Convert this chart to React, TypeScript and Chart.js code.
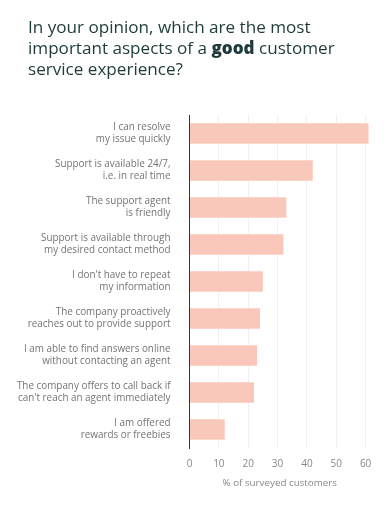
import React, { useEffect, useRef } from "react";
import { Chart, registerables } from "chart.js";

Chart.register(...registerables);

const categories: string[][] = [
  ["I can resolve", "my issue quickly"],
  ["Support is available 24/7,", "i.e. in real time"],
  ["The support agent", "is friendly"],
  ["Support is available through", "my desired contact method"],
  ["I don't have to repeat", "my information"],
  ["The company proactively", "reaches out to provide support"],
  ["I am able to find answers online", "without contacting an agent"],
  ["The company offers to call back if", "can't reach an agent immediately"],
  ["I am offered", "rewards or freebies"],
];
const values: number[] = [61, 42, 33, 32, 25, 24, 23, 22, 12];
const xTicks: number[] = [0, 10, 20, 30, 40, 50, 60];
const xTitle = "% of surveyed customers";

export default function App() {
  const ref = useRef<HTMLCanvasElement | null>(null);
  useEffect(() => {
    document.body.style.margin = "0";
    const ctx = ref.current!;
    const chart = new Chart(ctx, {
      type: "bar",
      data: {
        labels: categories,
        datasets: [
          {
            data: values,
            backgroundColor: "#f9c8ba",
            barPercentage: 0.56,
            categoryPercentage: 1,
          },
        ],
      },
      options: {
        indexAxis: "y",
        animation: false,
        responsive: false,
        maintainAspectRatio: false,
        layout: { padding: { top: 115, right: 19, bottom: 16, left: 0 } },
        plugins: { legend: { display: false }, tooltip: { enabled: false } },
        scales: {
          x: {
            min: 0,
            max: 61.5,
            afterBuildTicks: (s: any) => {
              s.ticks = xTicks.map((v) => ({ value: v }));
            },
            afterFit: (s: any) => {
              s.height = 45;
            },
            grid: { color: "#f0f0f0", drawTicks: false },
            border: { display: false },
            ticks: {
              color: "#888888",
              padding: 10.5,
              font: { family: "Open Sans", size: 10 },
            },
            title: {
              display: true,
              text: xTitle,
              color: "#888888",
              padding: { top: 0, bottom: 4 },
              font: { family: "Open Sans", size: 9.8 },
            },
          },
          y: {
            afterFit: (s: any) => {
              s.width = 189.5;
            },
            grid: { display: false, drawTicks: false },
            border: { display: true, color: "#2d3a3a", width: 1 },
            ticks: {
              color: "#747474",
              padding: 19,
              font: { family: "Open Sans", size: 9.9, lineHeight: 1.23 },
            },
          },
        },
      },
    });
    return () => chart.destroy();
  }, []);
  return (
    <div style={{ position: "relative", width: 389, height: 509, background: "#fff" }}>
      <div
        style={{
          position: "absolute",
          left: 28,
          top: 16,
          fontFamily: "Open Sans",
          fontSize: 17.1,
          lineHeight: "21px",
          color: "#1e3a3a",
          fontWeight: 500,
          width: 361,
        }}
      >
        In your opinion, which are the most
        <br />
        important aspects of a <b style={{ fontWeight: 800 }}>good</b> customer
        <br />
        service experience?
      </div>
      <canvas ref={ref} width={389} height={509} style={{ display: "block" }} />
    </div>
  );
}
